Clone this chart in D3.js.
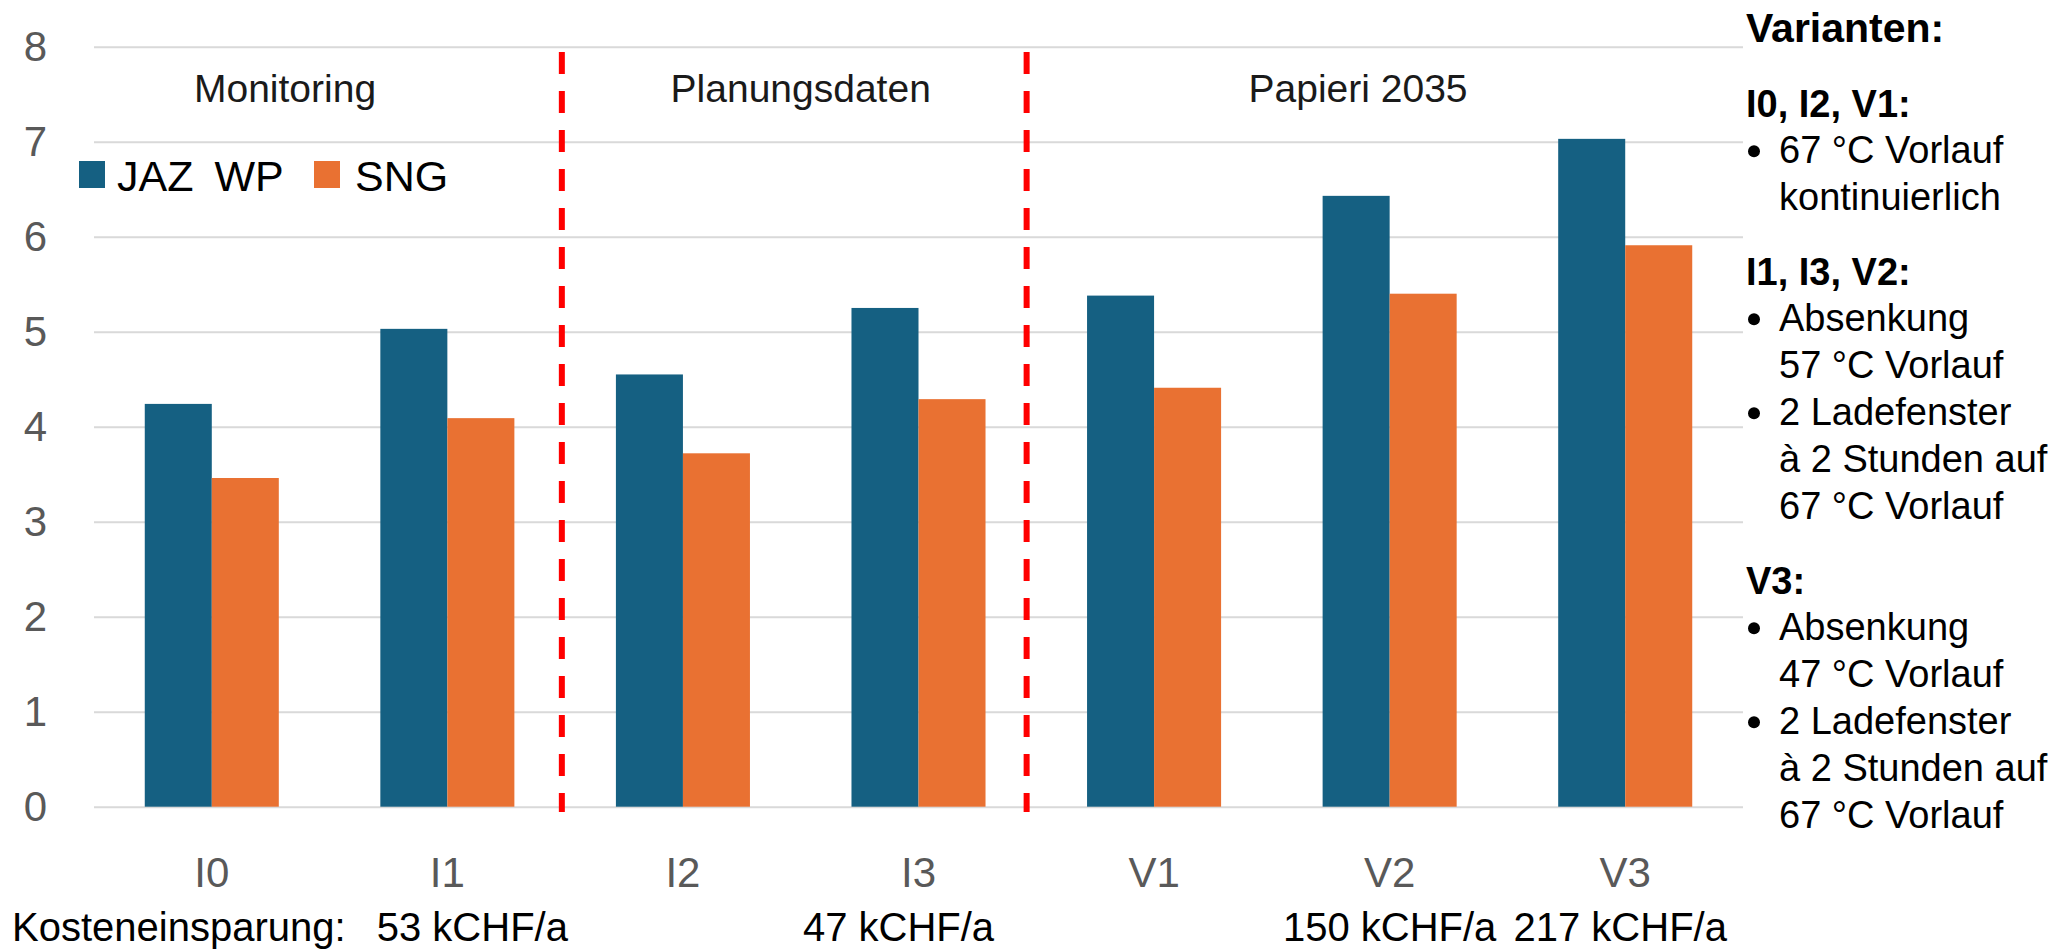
<!DOCTYPE html>
<html>
<head>
<meta charset="utf-8">
<script src="https://cdn.jsdelivr.net/npm/d3@7"></script>
<style>
  html, body { margin: 0; padding: 0; background: #fff; }
  svg { display: block; }
  text { font-family: "Liberation Sans", Arial, sans-serif; }
</style>
</head>
<body>
<svg id="chart" width="2064" height="952"></svg>
<script>
// ---------- data ----------
const categories = ["I0", "I1", "I2", "I3", "V1", "V2", "V3"];
const seriesNames = ["JAZ WP", "SNG"];
const jazWP = [4.24, 5.03, 4.55, 5.25, 5.38, 6.43, 7.03];
const sng   = [3.46, 4.09, 3.72, 4.29, 4.41, 5.40, 5.91];
const yTicks = [0, 1, 2, 3, 4, 5, 6, 7, 8];
const groupLabels = ["Monitoring", "Planungsdaten", "Papieri 2035"];
const savingsPrefix = "Kosteneinsparung:";
const savings = ["", "53 kCHF/a", "", "47 kCHF/a", "", "150 kCHF/a", "217 kCHF/a"];
const legendTitle = "Varianten:";
const variantBlocks = [
  { head: "I0, I2, V1:", bullets: [["67 °C Vorlauf", "kontinuierlich"]] },
  { head: "I1, I3, V2:", bullets: [["Absenkung", "57 °C Vorlauf"], ["2 Ladefenster", "à 2 Stunden auf", "67 °C Vorlauf"]] },
  { head: "V3:", bullets: [["Absenkung", "47 °C Vorlauf"], ["2 Ladefenster", "à 2 Stunden auf", "67 °C Vorlauf"]] }
];

// ---------- layout / style ----------
const colors = ["#156082", "#E97132"];
const gridColor = "#d9d9d9";
const axisText = "#595959";
const plotL = 94, plotR = 1743, y0 = 806.7, y8 = 46.7;

const svg = d3.select("#chart");

const x = d3.scaleBand().domain(categories).range([plotL, plotR])
  .paddingInner(0.431).paddingOuter(0.2155);
const xs = d3.scaleBand().domain(seriesNames).range([0, x.bandwidth()]);
const y = d3.scaleLinear().domain([0, 8]).range([y0, y8]);
// category-index scale for annotations between/around categories
const xi = d3.scaleLinear().domain([-0.5, categories.length - 0.5]).range([plotL, plotR]);

// grid + y axis
const yAxis = d3.axisLeft(y).tickValues(yTicks).tickFormat(d3.format("d"))
  .tickSizeInner(-(plotR - plotL)).tickSizeOuter(0).tickPadding(47);
const gy = svg.append("g").attr("transform", `translate(${plotL},0)`).call(yAxis);
gy.select(".domain").remove();
gy.selectAll(".tick line").attr("stroke", gridColor).attr("stroke-width", 2);
gy.selectAll(".tick text").attr("fill", axisText).attr("font-size", 42)
  .attr("font-family", "'Liberation Sans', Arial, sans-serif");

// x axis labels
const xAxis = d3.axisBottom(x).tickSize(0).tickPadding(50);
const gx = svg.append("g").attr("transform", `translate(0,${y0})`).call(xAxis);
gx.select(".domain").remove();
gx.selectAll(".tick text").attr("fill", axisText).attr("font-size", 42)
  .attr("font-family", "'Liberation Sans', Arial, sans-serif");

// bars
const rows = categories.map((c, i) => ({ cat: c, vals: [jazWP[i], sng[i]] }));
const grp = svg.append("g").selectAll("g").data(rows).join("g")
  .attr("transform", d => `translate(${x(d.cat)},0)`);
grp.selectAll("rect").data(d => d.vals.map((v, k) => ({ s: seriesNames[k], v, k })))
  .join("rect")
  .attr("x", d => xs(d.s))
  .attr("width", xs.bandwidth())
  .attr("y", d => y(d.v))
  .attr("height", d => y(0) - y(d.v))
  .attr("fill", d => colors[d.k]);

// red dashed separators
const separatorIdx = [1.486, 3.459];
svg.append("g").selectAll("line").data(separatorIdx).join("line")
  .attr("x1", d => xi(d)).attr("x2", d => xi(d))
  .attr("y1", 52).attr("y2", 812)
  .attr("stroke", "#ff0000").attr("stroke-width", 6)
  .attr("stroke-dasharray", "22 17");

// group labels
const groupIdx = [0.311, 2.5, 4.866];
svg.append("g").selectAll("text").data(groupLabels).join("text")
  .attr("x", (d, i) => xi(groupIdx[i])).attr("y", 102)
  .attr("text-anchor", "middle")
  .attr("font-family", "Roboto, 'Liberation Sans', sans-serif")
  .attr("font-size", 39).attr("fill", "#1a1a1a")
  .text(d => d);

// legend (top-left)
const leg = svg.append("g");
const legX = [79, 314], legTextX = [117, 355];
seriesNames.forEach((s, k) => {
  leg.append("rect").attr("x", legX[k]).attr("y", 161).attr("width", 26).attr("height", 27)
    .attr("fill", colors[k]);
  const t = leg.append("text").attr("x", legTextX[k]).attr("y", 190.5)
    .attr("font-size", 43).attr("fill", "#000");
  const parts = s.split(" ");
  parts.forEach((p, j) => {
    t.append("tspan").attr("dx", j === 0 ? 0 : 9).text(j === 0 ? p : " " + p);
  });
});

// savings row
const savY = 941;
svg.append("text").attr("x", 12).attr("y", savY).attr("font-size", 40).attr("fill", "#000")
  .text(savingsPrefix);
const savOffset = [0, 25, 0, -20, 0, 0, -5];
svg.append("g").selectAll("text").data(savings).join("text")
  .attr("x", (d, i) => x(categories[i]) + x.bandwidth() / 2 + savOffset[i])
  .attr("y", savY).attr("text-anchor", "middle")
  .attr("font-size", 40).attr("fill", "#000")
  .text(d => d);

// right-hand variant description
const panel = svg.append("g");
const pX = 1746, bulletX = 1754, txtX = 1779;
panel.append("text").attr("x", pX).attr("y", 41.7).attr("font-size", 41)
  .attr("font-weight", "bold").attr("fill", "#000").text(legendTitle);
let yy = 117.3;
const lineH = 47, blockGap = 75;
variantBlocks.forEach((b, bi) => {
  panel.append("text").attr("x", pX).attr("y", yy).attr("font-size", 38)
    .attr("font-weight", "bold").attr("fill", "#000").text(b.head);
  yy += 46;
  b.bullets.forEach(lines => {
    panel.append("circle").attr("cx", bulletX).attr("cy", yy - 12).attr("r", 6).attr("fill", "#000");
    lines.forEach(l => {
      panel.append("text").attr("x", txtX).attr("y", yy).attr("font-size", 38)
        .attr("fill", "#000").text(l);
      yy += lineH;
    });
  });
  yy += blockGap - lineH;
});
</script>
</body>
</html>
